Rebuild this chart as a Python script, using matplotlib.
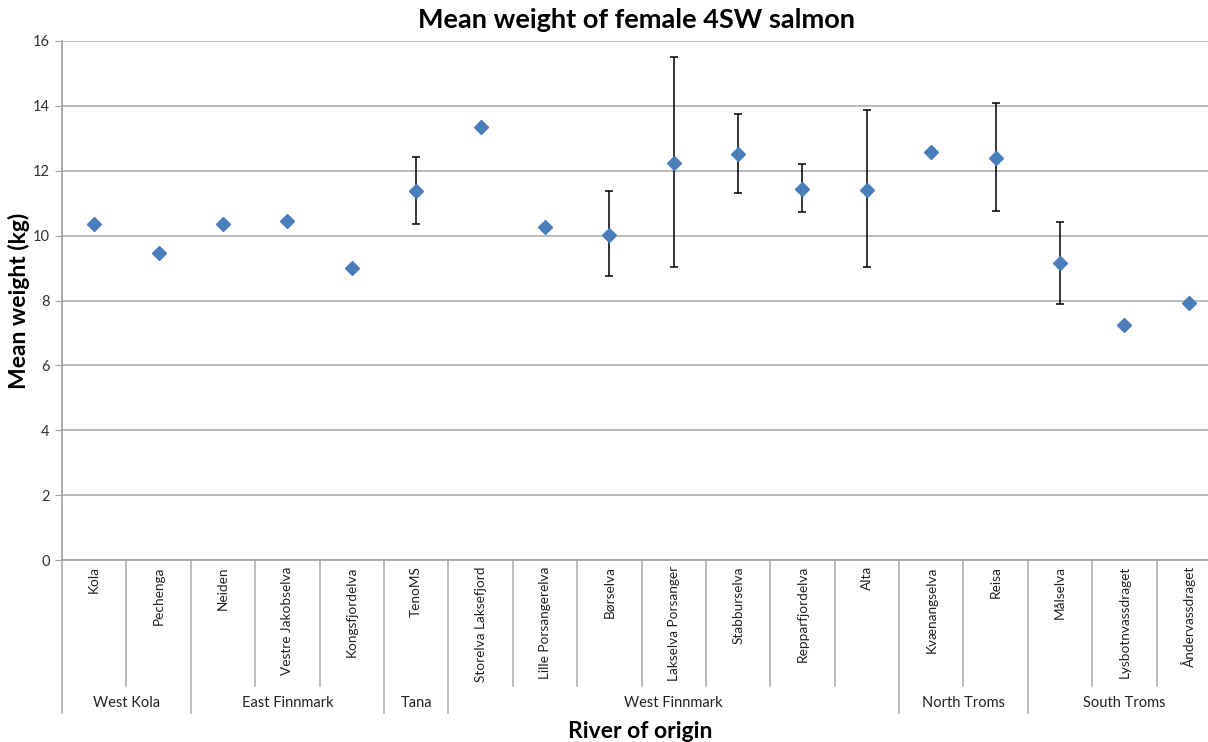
# Mean weight of female 4SW salmon per river, Excel-style grouped category axis
import numpy as np
from matplotlib import pyplot as plt
from matplotlib import transforms

#================================
#             DATI
#================================
rivers = ["Kola", "Pechenga", "Neiden", "Vestre Jakobselva", "Kongsfjordelva",
          "TenoMS", "Storelva Laksefjord", "Lille Porsangerelva", "Børselva",
          "Lakselva Porsanger", "Stabburselva", "Repparfjordelva", "Alta",
          "Kvænangselva", "Reisa", "Målselva", "Lysbotnvassdraget",
          "Åndervassdraget"]
regions = ["West Kola", "East Finnmark", "Tana", "West Finnmark",
           "North Troms", "South Troms"]
region_sizes = [2, 3, 1, 7, 2, 3]

mean_w = np.array([10.37, 9.47, 10.37, 10.46, 9.01, 11.37, 13.35, 10.26,
                   10.02, 12.23, 12.52, 11.43, 11.40, 12.57, 12.40, 9.15,
                   7.25, 7.91])
# estremi delle barre d'errore (nan = nessuna barra)
err_hi = np.array([np.nan, np.nan, np.nan, np.nan, np.nan, 12.41, np.nan,
                   np.nan, 11.37, 15.50, 13.75, 12.21, 13.87, np.nan, 14.09,
                   10.42, np.nan, np.nan])
err_lo = np.array([np.nan, np.nan, np.nan, np.nan, np.nan, 10.36, np.nan,
                   np.nan, 8.75, 9.04, 11.32, 10.73, 9.04, np.nan, 10.75,
                   7.89, np.nan, np.nan])

#================================
#            GRAFICO
#================================
plt.rcParams['font.family'] = ['Lato', 'DejaVu Sans']

fig = plt.figure(figsize=(12.08, 7.42), dpi=100)
ax = fig.add_axes([62/1208, 1 - 560/742, (1221 - 62)/1208, 519/742])

x = np.arange(len(rivers))
has_err = ~np.isnan(err_hi)
ax.errorbar(x[has_err], mean_w[has_err],
            yerr=[mean_w[has_err] - err_lo[has_err], err_hi[has_err] - mean_w[has_err]],
            fmt='none', ecolor='black', elinewidth=1.1, capsize=3, capthick=1.1, zorder=2)
ax.plot(x, mean_w, 'D', color='#4a7ebb', ms=7.5, ls='', zorder=3)

ax.set_xlim(-0.5, len(rivers) - 0.5)
ax.set_ylim(0, 16)
ax.set_yticks(np.arange(0, 17, 2))
ax.yaxis.grid(True, color='#b4b4b4', lw=1.3)
ax.set_axisbelow(True)
ax.tick_params(axis='y', length=5, color='#a0a0a0', labelsize=10.5, labelcolor='#333333', pad=4)
ax.set_xticks([])
for s in ['top', 'right']:
    ax.spines[s].set_visible(False)
for s in ['left', 'bottom']:
    ax.spines[s].set_color('#a0a0a0')
    ax.spines[s].set_linewidth(1.2)

# asse categorie a due livelli (fiumi + regioni)
trans = transforms.blended_transform_factory(ax.transData, ax.transAxes)
sep_col = '#a8a8a8'
inner_bot = -(686 - 560) / 519
group_bot = -(713 - 560) / 519
for i, r in enumerate(rivers):
    ax.text(i, -0.012, r, rotation=90, ha='center', va='top', fontsize=9.8,
            color='#222222', transform=trans)

bounds = np.concatenate([[0], np.cumsum(region_sizes)])
for k in range(1, len(rivers)):
    if k in bounds:
        continue
    ax.plot([k - 0.5, k - 0.5], [0, inner_bot], color=sep_col, lw=1.1,
            transform=trans, clip_on=False)
for b in bounds:
    ax.plot([b - 0.5, b - 0.5], [0, group_bot], color=sep_col, lw=1.1,
            transform=trans, clip_on=False)
for j, reg in enumerate(regions):
    c = (bounds[j] + bounds[j + 1] - 1) / 2
    ax.text(c, -(703 - 560) / 519, reg, ha='center', va='center', fontsize=10.5,
            color='#222222', transform=trans)

fig.text(636/1208, 1 - 20/742, 'Mean weight of female 4SW salmon',
         ha='center', va='center', fontsize=19.5, fontweight='bold')
fig.text(640/1208, 1 - 731/742, 'River of origin', ha='center', va='center',
         fontsize=16.5, fontweight='bold')
fig.text(19/1208, 1 - 301/742, 'Mean weight (kg)', rotation=90, ha='center',
         va='center', fontsize=16.5, fontweight='bold')

fig.savefig('out.png', dpi=100)
